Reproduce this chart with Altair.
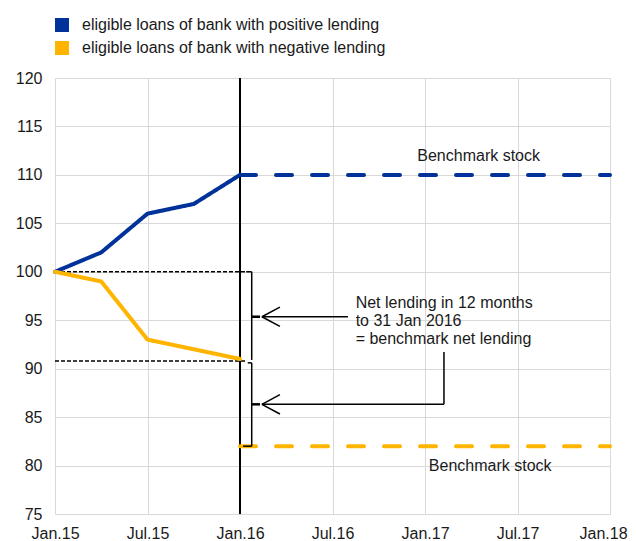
import altair as alt
import pandas as pd

FONT = "Liberation Sans"
TXT = "#1a1a1a"

# ---- data ----
series_names = ["eligible loans of bank with positive lending",
                "eligible loans of bank with negative lending"]
series_colors = ["#003299", "#ffb400"]
months = [0, 3, 6, 9, 12]
positive = [100, 102, 106, 107, 110]
negative = [100, 99, 93, 92, 91]
bench_months = [12, 36]
bench_positive = [110, 110]
bench_negative = [82, 82]
x_ticks = [0, 6, 12, 18, 24, 30, 36]
x_labels = ["Jan.15", "Jul.15", "Jan.16", "Jul.16", "Jan.17", "Jul.17", "Jan.18"]
y_ticks = [75, 80, 85, 90, 95, 100, 105, 110, 115, 120]
cutoff_month = [12]

# reference dashed lines (start/end month, level)
ref_levels = [100, 90.8]
ref_start = [0, 0]
ref_end = [12.4, 12.4]

# bracket and arrow segments (x, y, x2, y2) in months / index values
seg_x = [12.4, 12.76, 12.5, 12.76, 12.2, 13.42, 13.42, 13.42, 13.42, 13.42, 13.42, 25.23]
seg_y = [100, 100, 90.6, 90.6, 82, 95.36, 95.36, 95.36, 86.32, 86.32, 86.32, 86.32]
seg_x2 = [12.76, 12.76, 12.76, 12.76, 12.76, 19.0, 14.59, 14.59, 25.23, 14.59, 14.59, 25.23]
seg_y2 = [100, 90.9, 90.6, 82, 82, 95.36, 96.36, 94.36, 86.32, 87.32, 85.32, 91.72]
tick_x = [12.76, 12.76]
tick_x2 = [13.3, 13.3]
tick_y = [95.36, 86.32]

ann_text = ["Benchmark stock", "Benchmark stock", "Net lending in 12 months",
            "to 31 Jan 2016", "= benchmark net lending"]
ann_x = [23.5, 24.25, 19.5, 19.5, 19.5]
ann_y = [112.0, 80.0, 96.75, 94.9, 93.05]

# ---- tables ----
rows = []
for m, v in zip(months, positive):
    rows.append({"series": series_names[0], "part": "actual", "month": m, "value": v})
for m, v in zip(months, negative):
    rows.append({"series": series_names[1], "part": "actual", "month": m, "value": v})
for m, v in zip(bench_months, bench_positive):
    rows.append({"series": series_names[0], "part": "benchmark", "month": m, "value": v})
for m, v in zip(bench_months, bench_negative):
    rows.append({"series": series_names[1], "part": "benchmark", "month": m, "value": v})
lines_df = pd.DataFrame(rows)

ref_df = pd.DataFrame({"x": ref_start, "x2": ref_end, "y": ref_levels})
seg_df = pd.DataFrame({"x": seg_x, "y": seg_y, "x2": seg_x2, "y2": seg_y2})
tick_df = pd.DataFrame({"x": tick_x, "x2": tick_x2, "y": tick_y})
cut_df = pd.DataFrame({"x": cutoff_month})
ann_df = pd.DataFrame({"t": ann_text, "x": ann_x, "y": ann_y})

# ---- scales / axes ----
x_scale = alt.Scale(domain=[x_ticks[0], x_ticks[-1]], nice=False, zero=False)
y_scale = alt.Scale(domain=[y_ticks[0], y_ticks[-1]], nice=False, zero=False)
label_arr = "[" + ",".join("'%s'" % l for l in x_labels) + "]"
x_axis = alt.Axis(values=x_ticks, labelExpr=label_arr + "[round(datum.value/6)]",
                  title=None, labelPadding=11, labelFlush=False,
                  labelOffset={"condition": {"test": "datum.value == %d" % x_ticks[-1],
                                             "value": -7}, "value": 0})
y_axis = alt.Axis(values=y_ticks, title=None, labelPadding=13, labelFlush=False)


def X(f):
    return alt.X(f, type="quantitative", scale=x_scale, axis=x_axis)


def Y(f):
    return alt.Y(f, type="quantitative", scale=y_scale, axis=y_axis)


ref = alt.Chart(ref_df).mark_rule(color="black", strokeWidth=1.5, strokeDash=[4, 2]).encode(
    x=X("x"), x2="x2", y=Y("y"))

cut = alt.Chart(cut_df).mark_rule(color="black", strokeWidth=2).encode(x=X("x"))

lines = alt.Chart(lines_df).mark_line(strokeWidth=4, strokeCap="round", strokeJoin="round").encode(
    x=X("month"), y=Y("value"),
    color=alt.Color("series:N",
                    scale=alt.Scale(domain=series_names, range=series_colors),
                    legend=alt.Legend(
                        title=None, orient="none", legendX=-1, legendY=-61,
                        symbolType="square", symbolSize=49, symbolStrokeWidth=7,
                        labelFontSize=16, clipHeight=16,
                        labelFont=FONT, labelColor=TXT, labelOffset=12,
                        rowPadding=7, padding=0, labelLimit=0)),
    strokeDash=alt.StrokeDash("part:N",
                              scale=alt.Scale(domain=["actual", "benchmark"],
                                              range=[[1, 0], [16, 20]]),
                              legend=None),
    detail="series:N",
)

segs = alt.Chart(seg_df).mark_rule(color="black", strokeWidth=1.5).encode(
    x=X("x"), x2="x2", y=Y("y"), y2="y2")

ticks = alt.Chart(tick_df).mark_rule(color="black", strokeWidth=2.5).encode(
    x=X("x"), x2="x2", y=Y("y"))

ann = alt.Chart(ann_df).mark_text(align="left", baseline="middle", font=FONT,
                                  fontSize=16, color=TXT).encode(
    x=X("x"), y=Y("y"), text="t:N")

chart = alt.layer(ref, cut, lines, segs, ticks, ann).properties(
    width=555, height=436,
    autosize=alt.AutoSizeParams(type="none"),
    padding={"left": 47, "top": 70, "right": 18, "bottom": 27},
).configure_view(stroke=None).configure_axis(
    grid=True, gridColor="#d9d9d9", gridWidth=1, domain=False, ticks=False,
    labelFont=FONT, labelFontSize=16, labelColor=TXT,
)

chart.save("out.html", embed_options={"renderer": "svg", "actions": False})
